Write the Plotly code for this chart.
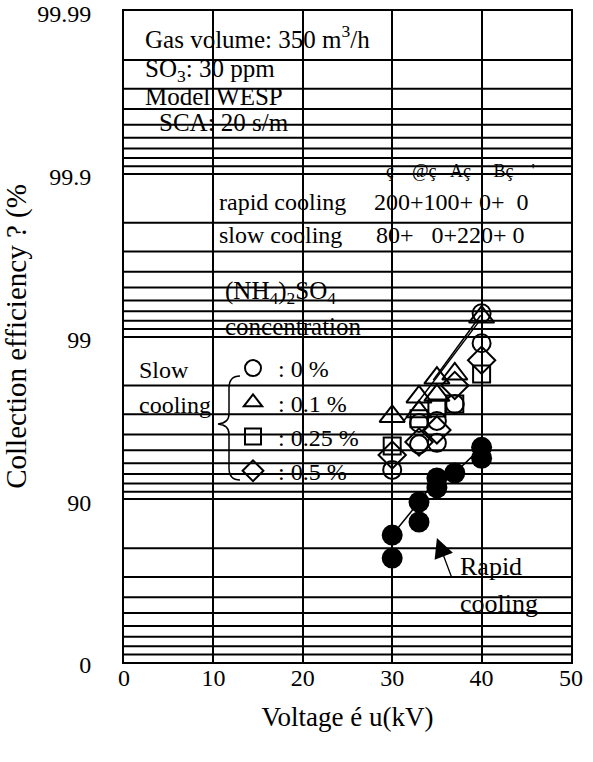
import numpy as np
import plotly.graph_objects as go

# ---------------- data ----------------
# Slow cooling, (NH4)2SO4 concentration series: voltage (kV) and collection efficiency (%)
slow_0_x = [30, 33, 33, 35, 35, 37, 40, 40]
slow_0_eff = [93.4, 96.6, 95.4, 96.7, 95.5, 97.4, 99.28, 98.9]

slow_01_x = [30, 33, 33, 35, 35, 37, 40]
slow_01_eff = [96.9, 97.65, 97.1, 98.2, 97.7, 98.3, 99.24]

slow_025_x = [30, 33, 35, 37, 40]
slow_025_eff = [95.3, 96.8, 97.25, 97.4, 98.3]

slow_05_x = [30, 33, 35, 37, 40]
slow_05_eff = [94.65, 95.55, 96.25, 98.0, 98.6]

# trend lines drawn through the slow-cooling points
slow_line_a_x = [31.2, 39.7]
slow_line_a_eff = [96.65, 99.19]
slow_line_b_x = [34.6, 39.9]
slow_line_b_eff = [98.15, 99.26]

# Rapid cooling (filled circles)
rapid_x = [30, 30, 33, 33, 35, 35, 37, 40, 40]
rapid_eff = [83.4, 77.0, 89.6, 86.2, 92.6, 91.5, 93.1, 95.2, 94.4]
rapid_line_x = [30, 33, 35, 37, 40]
rapid_line_eff = [83.4, 89.6, 92.6, 93.1, 95.2]

# axis ticks / grid (probability-type scale: -log10(100 - eff))
y_tick_eff = [0, 90, 99, 99.9, 99.99]
y_tick_text = ["0", "90", "99", "99.9", "99.99"]
y_grid_eff = [10, 20, 30, 40, 50, 60, 70, 80,
              91, 92, 93, 94, 95, 96, 97, 98,
              99.1, 99.2, 99.3, 99.4, 99.5, 99.6, 99.7, 99.8,
              99.91, 99.92, 99.93, 99.94, 99.95, 99.96, 99.97, 99.98]
x_ticks = [0, 10, 20, 30, 40, 50]


def u(e):
    return (-np.log10(100.0 - np.asarray(e, dtype=float))).tolist()


FONT = "Liberation Serif, Times New Roman, serif"
W, H = 593, 762
PL, PR, PT, PB = 124, 571, 11, 662


def pxx(x):
    return (x - PL) / (PR - PL)


def pyy(y):
    return (PB - y) / (PB - PT)


fig = go.Figure()

mk_line = dict(color="black", width=2)
series = [
    (": 0 %", slow_0_x, slow_0_eff, "circle-open", 18),
    (": 0.1 %", slow_01_x, slow_01_eff, "triangle-up-open", 22),
    (": 0.25 %", slow_025_x, slow_025_eff, "square-open", 17),
    (": 0.5 %", slow_05_x, slow_05_eff, "diamond-open", 21),
]
for i, (name, xs, es, sym, sz) in enumerate(series):
    fig.add_trace(go.Scatter(
        x=xs, y=u(es), mode="markers", name=name, legendgroup=f"g{i}",
        marker=dict(symbol=sym, size=sz, color="black", line=mk_line),
    ))

for lx, le in [(slow_line_a_x, slow_line_a_eff), (slow_line_b_x, slow_line_b_eff),
               (rapid_line_x, rapid_line_eff)]:
    fig.add_trace(go.Scatter(x=lx, y=u(le), mode="lines", showlegend=False,
                             line=dict(color="black", width=1.5)))

fig.add_trace(go.Scatter(
    x=rapid_x, y=u(rapid_eff), mode="markers", name="Rapid cooling", showlegend=False,
    marker=dict(symbol="circle", size=21, color="black"),
))

# ---------------- annotations ----------------
ann = []


def txt(s, x, y, size=24, anchor="left"):
    ann.append(dict(text=s, x=pxx(x), y=pyy(y), xref="paper", yref="paper",
                    xanchor=anchor, yanchor="middle", showarrow=False,
                    font=dict(family=FONT, size=size, color="black")))


NB = "\u00a0"
txt("Gas volume: 350 m<sup>3</sup>/h", 143, 37, 25)
txt("SO<sub>3</sub>: 30 ppm", 143, 70, 25)
txt("Model WESP", 143, 97, 25)
txt("SCA: 20 s/m", 157, 122, 25)
txt("ç" + NB * 4 + "@ç" + NB * 3 + "Aç" + NB * 5 + "Bç" + NB * 4 + "'", 384, 171, 18)
txt("rapid cooling", 217, 202)
txt("200+100+" + NB + "0+" + NB * 2 + "0", 372, 202)
txt("slow cooling", 217, 235)
txt("80+" + NB * 3 + "0+220+" + NB + "0", 374, 235)
txt("(NH<sub>4</sub>)<sub>2</sub>SO<sub>4</sub>", 223, 292, 25)
txt("concentration", 223, 326, 25)
txt("Slow", 137, 370)
txt("cooling", 137, 405)
txt("Rapid", 458, 566, 26)
txt("cooling", 458, 603, 26)

# arrow pointing to the rapid-cooling data
ann.append(dict(x=35.0, y=u([82.7])[0], xref="x", yref="y", text="", showarrow=True,
                ax=15, ay=40, arrowhead=2, arrowsize=3, arrowwidth=1.3,
                arrowcolor="black"))

# brace for the slow-cooling legend (pixel points converted to paper)
bp = [(240, 376), (229, 376), (229, 388), (229, 414), (229, 423), (218, 424),
      (229, 425), (229, 434), (229, 468), (229, 480), (240, 480)]
P = [(pxx(a), pyy(b)) for a, b in bp]
path = (f"M {P[0][0]},{P[0][1]} Q {P[1][0]},{P[1][1]} {P[2][0]},{P[2][1]} "
        f"L {P[3][0]},{P[3][1]} Q {P[4][0]},{P[4][1]} {P[5][0]},{P[5][1]} "
        f"Q {P[6][0]},{P[6][1]} {P[7][0]},{P[7][1]} L {P[8][0]},{P[8][1]} "
        f"Q {P[9][0]},{P[9][1]} {P[10][0]},{P[10][1]}")

shapes = [dict(type="path", path=path, xref="paper", yref="paper",
               line=dict(color="black", width=1.5))]
# horizontal probability-paper grid lines
for gy in u(y_grid_eff):
    shapes.append(dict(type="line", xref="paper", x0=0, x1=1, yref="y", y0=gy, y1=gy,
                       line=dict(color="black", width=2), layer="above"))

fig.update_layout(
    width=W, height=H,
    margin=dict(l=PL, r=W - PR, t=PT, b=H - PB, autoexpand=False),
    paper_bgcolor="white", plot_bgcolor="white",
    font=dict(family=FONT, size=24, color="black"),
    annotations=ann,
    shapes=shapes,
    showlegend=True,
    legend=dict(x=pxx(228), y=pyy(346), xanchor="left", yanchor="top",
                bgcolor="rgba(0,0,0,0)", font=dict(family=FONT, size=24),
                tracegroupgap=5, itemsizing="trace", traceorder="normal",
                itemwidth=40),
)

fig.update_xaxes(
    range=[0, 50], tickvals=x_ticks, ticks="", showgrid=True, gridcolor="black",
    gridwidth=1.5, zeroline=False, showline=True, linecolor="black", linewidth=2,
    mirror=True, tickfont=dict(family=FONT, size=24), ticklabelstandoff=-7,
    title=dict(text="Voltage \u00e9 u(kV)", font=dict(family=FONT, size=27), standoff=17),
)
fig.update_yaxes(
    range=[-2, 2], tickvals=u(y_tick_eff), ticktext=y_tick_text, ticks="inside",
    ticklen=6, tickcolor="black", tickwidth=1.5, showgrid=True, gridcolor="black",
    gridwidth=2, zeroline=False, showline=True, linecolor="black", linewidth=2,
    mirror=True, tickfont=dict(family=FONT, size=24), ticklabelstandoff=26,
    ticklabeloverflow="allow", ticklabelshift=3,
    title=dict(text="Collection efficiency ? (%", font=dict(family=FONT, size=29), standoff=2),
)

fig.write_html("out.html")
